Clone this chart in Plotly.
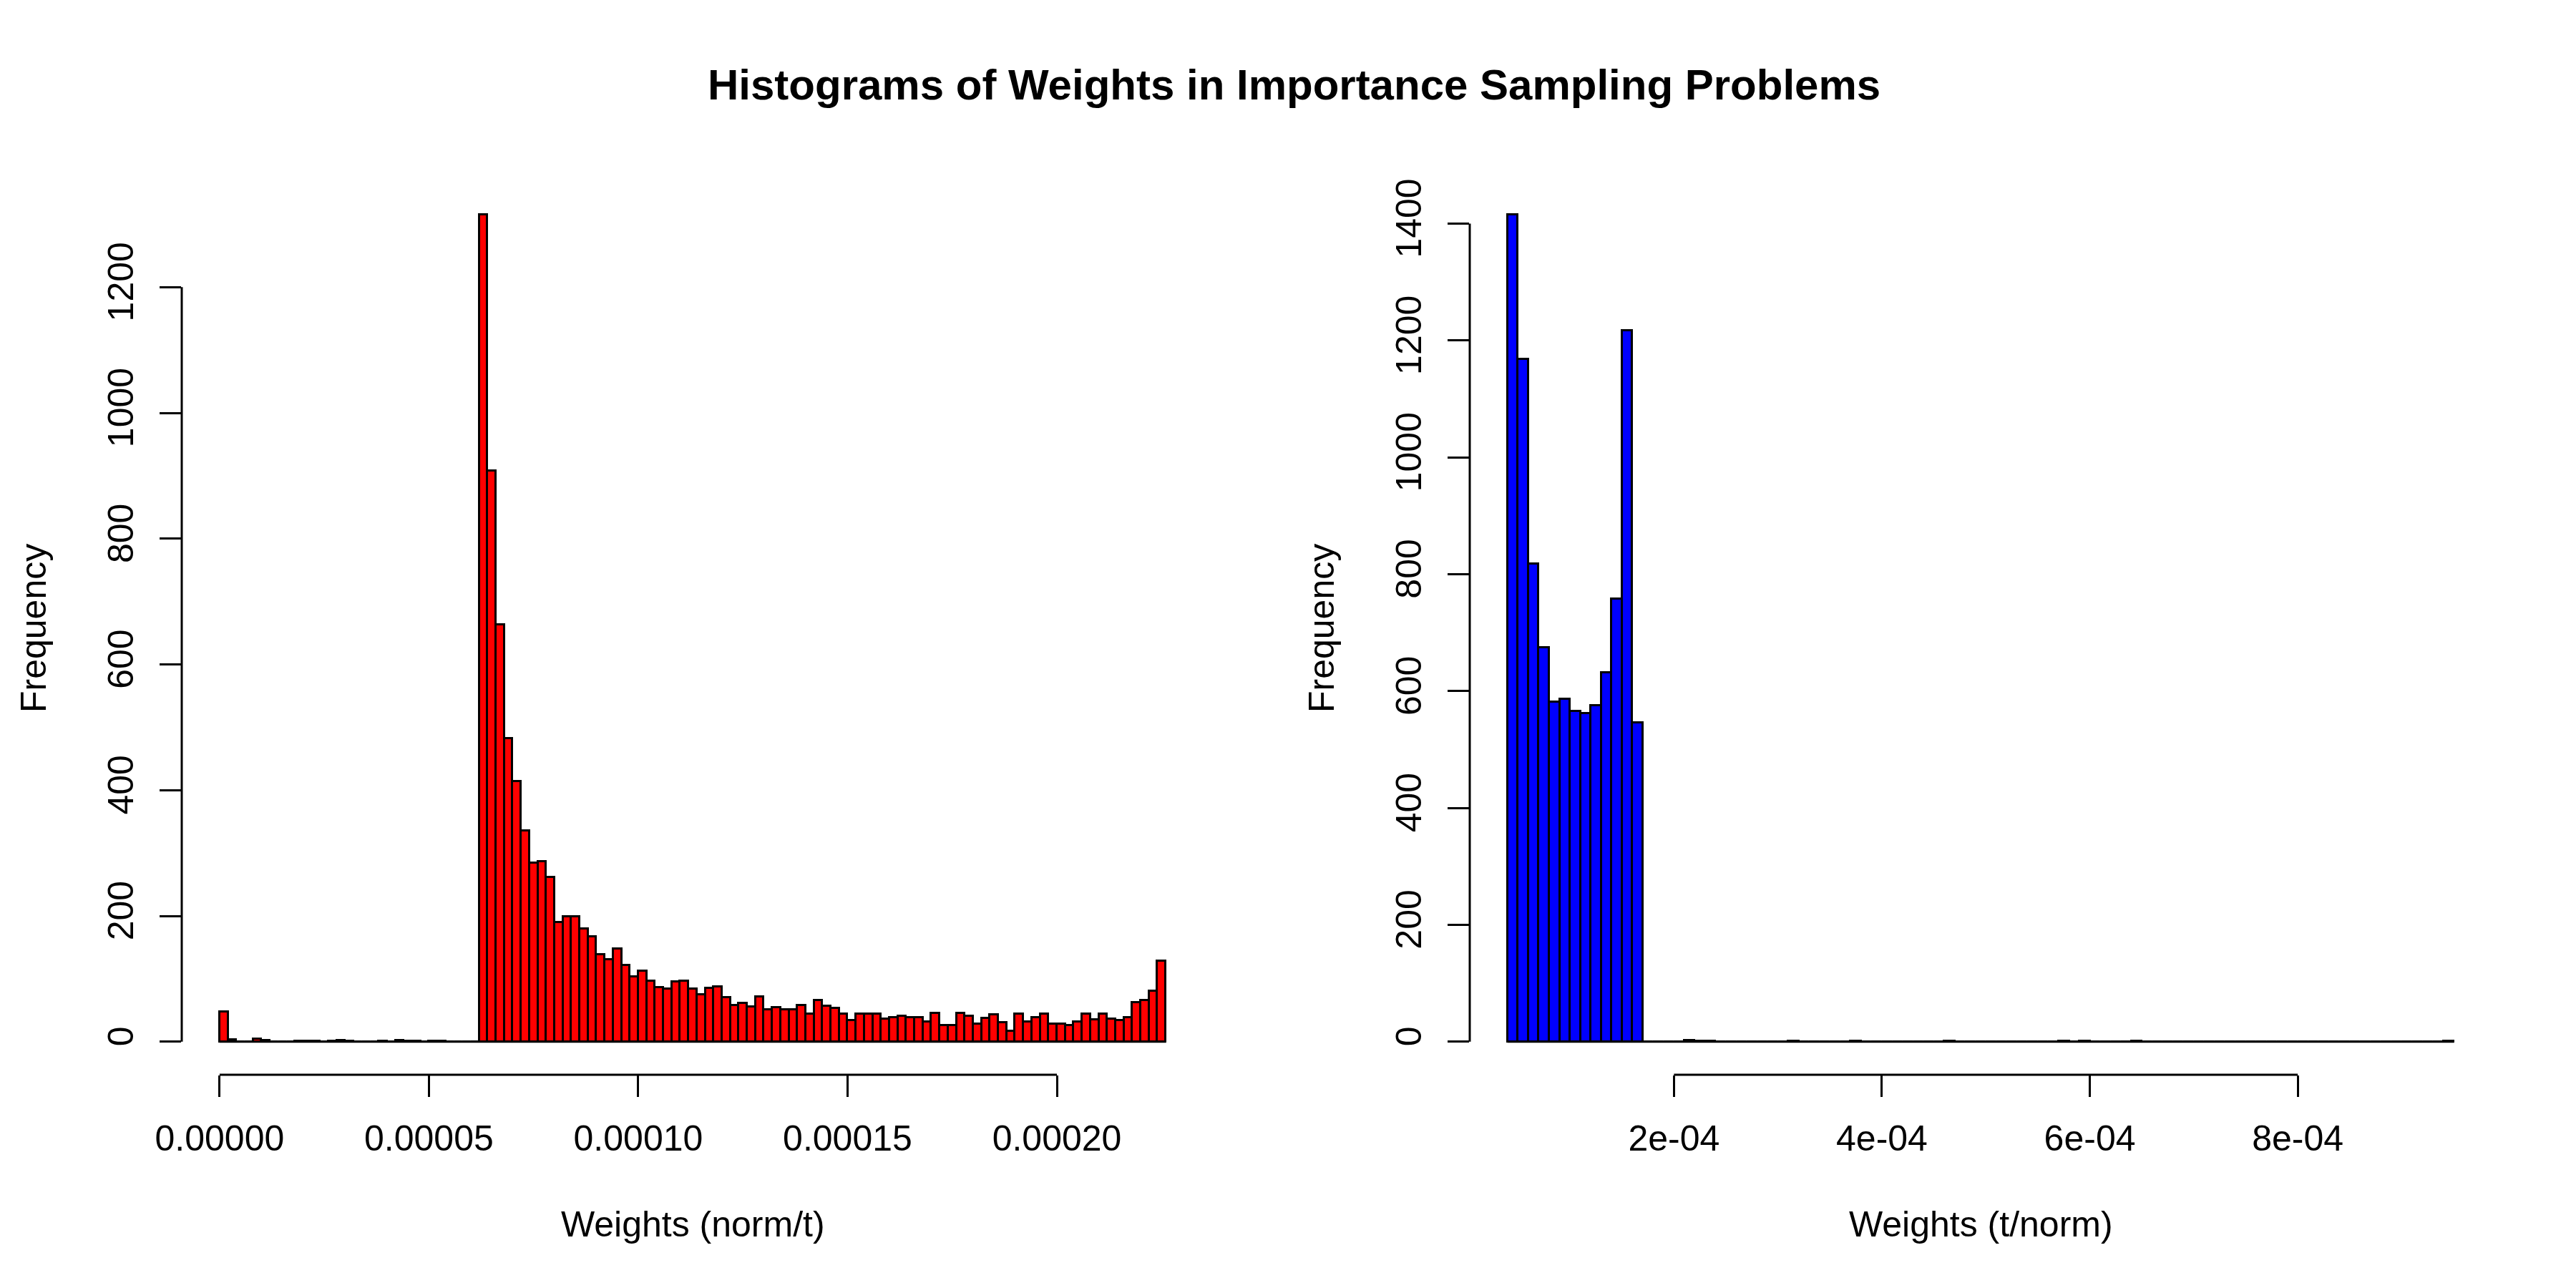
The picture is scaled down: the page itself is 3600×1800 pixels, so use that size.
import numpy as np
import plotly.graph_objects as go

# ---------------- data ----------------
title_text = "Histograms of Weights in Importance Sampling Problems"

# Left histogram: Weights (norm/t), breaks start & width
left_break_start = 0.0
left_bin_width = 2e-6
left_counts = [48, 3, 0, 0, 4, 2, 0, 0, 0, 1,
               1, 1, 0, 1, 2, 1, 0, 0, 0, 1,
               0, 2, 1, 1, 0, 1, 1, 0, 0, 0,
               0,
               1315, 908, 663, 482, 414, 336, 284, 287, 262, 190,
               199, 199, 179, 167, 139, 131, 148, 121, 103,
               112, 96, 86, 84, 95, 96, 84, 75, 85, 87,
               70, 58, 61, 56, 72, 51, 54, 51, 51, 58, 44,
               66, 57, 53, 44, 34, 44, 44, 44, 36, 39,
               41, 39, 38, 32, 45, 26, 26, 45, 41, 28,
               37, 43, 30, 17, 44, 32, 38, 44, 28, 28,
               26, 32, 44, 35, 44, 36, 34, 38, 62, 66,
               80, 128]
left_xtick_vals = [0.0, 5e-5, 1e-4, 1.5e-4, 2e-4]
left_xtick_text = ["0.00000", "0.00005", "0.00010", "0.00015", "0.00020"]
left_ytick_vals = [0, 200, 400, 600, 800, 1000, 1200]
left_xlabel = "Weights (norm/t)"

# Right histogram: Weights (t/norm)
right_break_start = 4e-5
right_bin_width = 1e-5
right_counts = [1415, 1168, 818, 675, 581, 586, 565, 562, 575, 631, 758, 1217, 546,
                0, 0, 0, 0, 2, 1, 1, 0, 0, 0,
                0, 0, 0, 0, 1, 0, 0, 0, 0, 0,
                1, 0, 0, 0, 0, 0, 0, 0, 0, 1,
                0, 0, 0, 0, 0, 0, 0, 0, 0, 0,
                1, 0, 1, 0, 0, 0, 0, 1, 0, 0,
                0, 0, 0, 0, 0, 0, 0, 0, 0, 0,
                0, 0, 0, 0, 0, 0, 0, 0, 0, 0,
                0, 0, 0, 0, 0, 0, 0, 1]
right_xtick_vals = [2e-4, 4e-4, 6e-4, 8e-4]
right_xtick_text = ["2e-04", "4e-04", "6e-04", "8e-04"]
right_ytick_vals = [0, 200, 400, 600, 800, 1000, 1200, 1400]
right_xlabel = "Weights (t/norm)"
ylabel = "Frequency"

# ---------------- figure ----------------
FONT = "Liberation Sans, Arial, Helvetica, sans-serif"
W, H = 3600, 1800
LW = 3

fig = go.Figure()


def edges_of(start, width, counts):
    return start + width * np.arange(len(counts) + 1)


panels = [
    dict(start=left_break_start, width=left_bin_width, counts=left_counts, color="#FF0000",
         xt=left_xtick_vals, xtt=left_xtick_text, yt=left_ytick_vals, xl=left_xlabel,
         xa="x", ya="y", dom=[246 / W, 1674 / W]),
    dict(start=right_break_start, width=right_bin_width, counts=right_counts, color="#0000FF",
         xt=right_xtick_vals, xtt=right_xtick_text, yt=right_ytick_vals, xl=right_xlabel,
         xa="x2", ya="y2", dom=[2046 / W, 3474 / W]),
]

ydom = [306 / H, 1554 / H]
shapes = []
annotations = []

for i, p in enumerate(panels):
    e = edges_of(p["start"], p["width"], p["counts"])
    centers = (e[:-1] + e[1:]) / 2
    # baseline for empty bins (R draws zero-height rectangles)
    fig.add_trace(go.Scatter(x=[e[0], e[-1]], y=[0, 0], mode="lines",
                             line=dict(color="black", width=LW),
                             xaxis=p["xa"], yaxis=p["ya"], showlegend=False, hoverinfo="skip"))
    fig.add_trace(go.Bar(x=centers, y=p["counts"], width=p["width"],
                         marker=dict(color=p["color"], line=dict(color="black", width=LW)),
                         xaxis=p["xa"], yaxis=p["ya"], showlegend=False))
    xr = e[-1] - e[0]
    xrange = [e[0] - 0.04 * xr, e[-1] + 0.04 * xr]
    ymax = max(p["counts"])
    yrange = [-0.04 * ymax, 1.04 * ymax]
    sfx = "" if i == 0 else "2"
    axis_common = dict(showgrid=False, zeroline=False, showline=False, ticks="outside",
                       ticklen=30, tickwidth=LW, tickcolor="black", automargin=False,
                       tickfont=dict(family=FONT, size=50, color="black"))
    fig.update_layout(**{
        "xaxis" + sfx: dict(domain=p["dom"], range=xrange, anchor="y" + sfx,
                            tickmode="array", tickvals=p["xt"], ticktext=p["xtt"],
                            ticklabelstandoff=15, **axis_common),
        "yaxis" + sfx: dict(domain=ydom, range=yrange, anchor="x" + sfx,
                            tickmode="array", tickvals=p["yt"], ticktext=[str(v) for v in p["yt"]],
                            tickangle=-90, ticklabelstandoff=17, **axis_common),
    })
    # R-style axis lines spanning only first..last tick
    shapes.append(dict(type="line", xref=p["xa"], yref=p["ya"] + " domain",
                       x0=p["xt"][0], x1=p["xt"][-1], y0=0, y1=0,
                       line=dict(color="black", width=LW)))
    shapes.append(dict(type="line", xref=p["xa"] + " domain", yref=p["ya"],
                       x0=0, x1=0, y0=p["yt"][0], y1=p["yt"][-1],
                       line=dict(color="black", width=LW)))
    # axis titles
    cx = (p["dom"][0] + p["dom"][1]) / 2
    annotations.append(dict(text=p["xl"], xref="paper", yref="paper", x=cx, y=97 / H,
                            showarrow=False, xanchor="center", yanchor="middle",
                            font=dict(family=FONT, size=50, color="black")))
    annotations.append(dict(text=ylabel, xref="paper", yref="paper",
                            x=p["dom"][0] - 207 / W, y=(ydom[0] + ydom[1]) / 2,
                            textangle=-90, showarrow=False, xanchor="center", yanchor="middle",
                            font=dict(family=FONT, size=50, color="black")))

annotations.append(dict(text="<b>" + title_text + "</b>", xref="paper", yref="paper",
                        x=0.5, y=1 - 110 / H, showarrow=False, xanchor="center", yanchor="middle",
                        font=dict(family=FONT, size=60, color="black")))

fig.update_layout(width=W, height=H, autosize=False,
                  margin=dict(l=0, r=0, t=0, b=0, autoexpand=False),
                  paper_bgcolor="white", plot_bgcolor="white",
                  bargap=0, barmode="overlay",
                  shapes=shapes, annotations=annotations,
                  showlegend=False)

fig.write_html("out.html")
